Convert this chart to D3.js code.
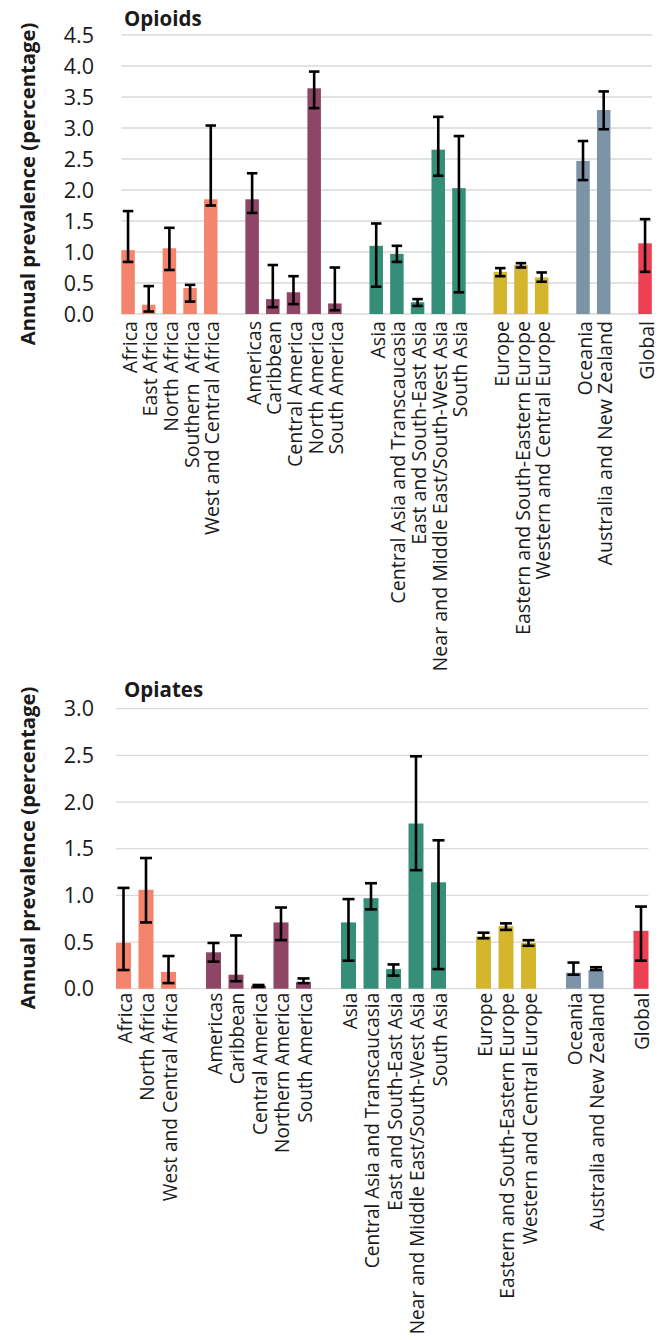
<!DOCTYPE html>
<html>
<head>
<meta charset="utf-8">
<script src="https://cdn.jsdelivr.net/npm/d3@7"></script>
<style>
  html, body { margin: 0; padding: 0; background: #fff; }
  svg { display: block; }
</style>
</head>
<body>
<svg id="chart" width="661" height="1340"></svg>
<script>
// ---------- Opioids data ----------
const opioidCategories = [
  "Africa", "East Africa", "North Africa", "Southern  Africa", "West and Central Africa",
  "Americas", "Caribbean", "Central America", "North America", "South America",
  "Asia", "Central Asia and Transcaucasia", "East and South-East Asia", "Near and Middle East/South-West Asia", "South Asia",
  "Europe", "Eastern and South-Eastern Europe", "Western and Central Europe",
  "Oceania", "Australia and New Zealand",
  "Global"
];
const opioidGroups = [
  "Africa", "Africa", "Africa", "Africa", "Africa",
  "Americas", "Americas", "Americas", "Americas", "Americas",
  "Asia", "Asia", "Asia", "Asia", "Asia",
  "Europe", "Europe", "Europe",
  "Oceania", "Oceania",
  "Global"
];
const opioidValues = [1.03, 0.15, 1.06, 0.42, 1.85, 1.85, 0.24, 0.35, 3.64, 0.17, 1.10, 0.97, 0.19, 2.65, 2.03, 0.68, 0.79, 0.59, 2.47, 3.29, 1.14];
const opioidUpper  = [1.66, 0.45, 1.39, 0.47, 3.04, 2.27, 0.79, 0.61, 3.91, 0.75, 1.46, 1.10, 0.24, 3.18, 2.87, 0.74, 0.82, 0.67, 2.79, 3.59, 1.53];
const opioidLower  = [0.84, 0.04, 0.71, 0.20, 1.75, 1.63, 0.11, 0.16, 3.32, 0.06, 0.44, 0.84, 0.13, 2.23, 0.35, 0.61, 0.75, 0.52, 2.16, 2.98, 0.68];
const opioidTicks  = [0, 0.5, 1, 1.5, 2, 2.5, 3, 3.5, 4, 4.5];

// ---------- Opiates data ----------
const opiateCategories = [
  "Africa", "North Africa", "West and Central Africa",
  "Americas", "Caribbean", "Central America", "Northern America", "South America",
  "Asia", "Central Asia and Transcaucasia", "East and South-East Asia", "Near and Middle East/South-West Asia", "South Asia",
  "Europe", "Eastern and South-Eastern Europe", "Western and Central Europe",
  "Oceania", "Australia and New Zealand",
  "Global"
];
const opiateGroups = [
  "Africa", "Africa", "Africa",
  "Americas", "Americas", "Americas", "Americas", "Americas",
  "Asia", "Asia", "Asia", "Asia", "Asia",
  "Europe", "Europe", "Europe",
  "Oceania", "Oceania",
  "Global"
];
const opiateValues = [0.49, 1.06, 0.18, 0.39, 0.15, 0.03, 0.71, 0.07, 0.71, 0.97, 0.21, 1.77, 1.14, 0.56, 0.67, 0.49, 0.17, 0.20, 0.62];
const opiateUpper  = [1.08, 1.40, 0.35, 0.49, 0.57, 0.04, 0.87, 0.11, 0.96, 1.13, 0.26, 2.49, 1.59, 0.60, 0.70, 0.52, 0.28, 0.23, 0.88];
const opiateLower  = [0.20, 0.71, 0.06, 0.29, 0.08, 0.02, 0.52, 0.06, 0.30, 0.85, 0.14, 1.27, 0.21, 0.54, 0.63, 0.46, 0.15, 0.20, 0.30];
const opiateTicks  = [0, 0.5, 1, 1.5, 2, 2.5, 3];

// ---------- Colours ----------
const groupNames  = ["Africa", "Americas", "Asia", "Europe", "Oceania", "Global"];
const groupColors = ["#F4846C", "#8E4566", "#358F78", "#D4B52C", "#7D93A8", "#EE4055"];

const yTitle = "Annual prevalence (percentage)";
const FONT = "'Open Sans', 'Noto Sans', sans-serif";

const svg = d3.select("#chart");
const color = d3.scaleOrdinal().domain(groupNames).range(groupColors);

function drawPanel(cfg) {
  const n = cfg.categories.length;
  const rows = cfg.categories.map((c, i) => ({
    key: c + "|" + i, name: c, group: cfg.groups[i],
    v: cfg.values[i], hi: cfg.upper[i], lo: cfg.lower[i]
  }));
  const domain = [];
  rows.forEach((r, i) => {
    if (i > 0 && r.group !== rows[i - 1].group) domain.push("gap" + i);
    domain.push(r.key);
  });

  const x = d3.scaleBand().domain(domain).range(cfg.xRange).padding(0);
  const y = d3.scaleLinear().domain([0, cfg.yMax]).range([cfg.y0, cfg.yTop]);
  const bw = cfg.barWidth;
  const cx = k => x(k) + x.bandwidth() / 2;

  const g = svg.append("g");
  const gx1 = cx(rows[0].key) - bw / 2;
  const gx2 = cx(rows[n - 1].key) + bw / 2;

  g.append("g").selectAll("line").data(cfg.ticks).join("line")
    .attr("x1", gx1).attr("x2", gx2)
    .attr("y1", d => y(d)).attr("y2", d => y(d))
    .attr("stroke", "#D9D9D9").attr("stroke-width", 1.3);

  g.append("g").selectAll("text").data(cfg.ticks).join("text")
    .attr("x", 94).attr("y", d => y(d)).attr("dy", "0.36em")
    .attr("text-anchor", "end")
    .attr("font-family", FONT).attr("font-size", 21.5).attr("fill", "#1a1a1a")
    .text(d => d.toFixed(1));

  g.append("g").selectAll("rect").data(rows).join("rect")
    .attr("x", d => cx(d.key) - bw / 2).attr("width", bw)
    .attr("y", d => y(d.v)).attr("height", d => y(0) - y(d.v))
    .attr("fill", d => color(d.group));

  const eb = g.append("g").attr("stroke", "#000").attr("stroke-width", 2.6).attr("fill", "none");
  eb.selectAll("line.v").data(rows).join("line").attr("class", "v")
    .attr("x1", d => cx(d.key)).attr("x2", d => cx(d.key))
    .attr("y1", d => y(d.hi)).attr("y2", d => y(d.lo));
  eb.selectAll("line.t").data(rows).join("line").attr("class", "t")
    .attr("x1", d => cx(d.key) - cfg.cap / 2).attr("x2", d => cx(d.key) + cfg.cap / 2)
    .attr("y1", d => y(d.hi)).attr("y2", d => y(d.hi));
  eb.selectAll("line.b").data(rows).join("line").attr("class", "b")
    .attr("x1", d => cx(d.key) - cfg.cap / 2).attr("x2", d => cx(d.key) + cfg.cap / 2)
    .attr("y1", d => y(d.lo)).attr("y2", d => y(d.lo));

  g.append("g").selectAll("text").data(rows).join("text")
    .attr("transform", d => `translate(${cx(d.key) + 1.5},${y(0) + cfg.labelGap}) rotate(-90)`)
    .attr("text-anchor", "end").attr("dy", "0.36em")
    .attr("font-family", FONT).attr("font-size", cfg.labelSize).attr("fill", "#1a1a1a")
    .style("white-space", "pre")
    .text(d => d.name);

  g.append("text")
    .attr("x", 124).attr("y", cfg.titleY)
    .attr("font-family", FONT).attr("font-size", 20.5).attr("font-weight", "bold").attr("fill", "#1a1a1a")
    .text(cfg.title);

  g.append("text")
    .attr("transform", `translate(28,${cfg.yTitleY}) rotate(-90)`)
    .attr("text-anchor", "middle").attr("dy", "0.36em")
    .attr("font-family", FONT).attr("font-size", 20.3).attr("font-weight", "bold").attr("fill", "#1a1a1a")
    .text(yTitle);
}

drawPanel({
  title: "Opioids", titleY: 26,
  categories: opioidCategories, groups: opioidGroups,
  values: opioidValues, upper: opioidUpper, lower: opioidLower, ticks: opioidTicks,
  yMax: 4.5, y0: 314, yTop: 35, xRange: [117.7, 655.4], barWidth: 13.5, cap: 10.5,
  labelGap: 7, labelSize: 19.6, yTitleY: 184
});

drawPanel({
  title: "Opiates", titleY: 697,
  categories: opiateCategories, groups: opiateGroups,
  values: opiateValues, upper: opiateUpper, lower: opiateLower, ticks: opiateTicks,
  yMax: 3, y0: 988.7, yTop: 708.7, xRange: [112.25, 652.25], barWidth: 15, cap: 12,
  labelGap: 4, labelSize: 19.1, yTitleY: 848
});
</script>
</body>
</html>
